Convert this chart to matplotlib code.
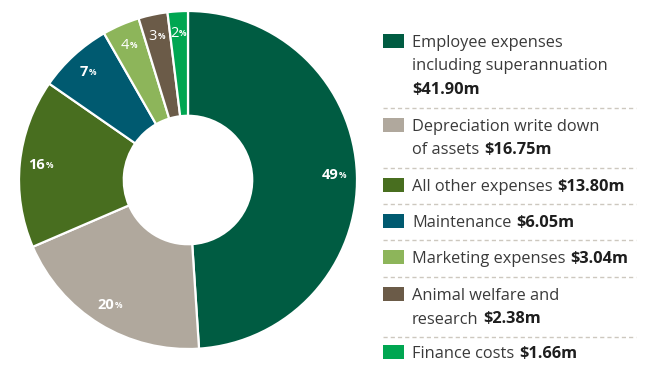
import matplotlib.pyplot as plt
from matplotlib.patches import Rectangle
from matplotlib.lines import Line2D

plt.rcParams['font.family'] = ['Open Sans', 'DejaVu Sans']

# Expense breakdown ($m)
values = [41.90, 16.75, 13.80, 6.05, 3.04, 2.38, 1.66]
colors = ['#005c42', '#b0a89d', '#486e1f', '#005a70', '#8db55a', '#6b5b48', '#00a651']
# legend text: regular lines, with the bold dollar amount appended to the last line
legend_lines = [
    ['Employee expenses', 'including superannuation', ''],
    ['Depreciation write down', 'of assets'],
    ['All other expenses'],
    ['Maintenance'],
    ['Marketing expenses'],
    ['Animal welfare and', 'research'],
    ['Finance costs'],
]
amounts = ['$41.90m', '$16.75m', '$13.80m', '$6.05m', '$3.04m', '$2.38m', '$1.66m']

W, H = 667, 367
fig = plt.figure(figsize=(W / 100, H / 100), dpi=100)

# donut
cx, cy, r = 188, 180, 169
ax = fig.add_axes([(cx - r) / W, (H - cy - r) / H, 2 * r / W, 2 * r / H])
wedges, _ = ax.pie(values, colors=colors, startangle=90, counterclock=False,
                   radius=1, wedgeprops=dict(width=0.62, edgecolor='white', linewidth=1.6))
ax.set_xlim(-1, 1)
ax.set_ylim(-1, 1)
ax.axis('off')

import numpy as np
total = sum(values)
for w, v in zip(wedges, values):
    pct = round(v / total * 100)
    ang = np.deg2rad((w.theta1 + w.theta2) / 2)
    x, y = 0.87 * np.cos(ang), 0.87 * np.sin(ang)
    weight = 'bold' if pct >= 5 else 'normal'
    t = ax.text(x - 0.03, y, str(pct), color='white', fontsize=10.5, fontweight=weight,
                ha='center', va='center')
    ax.annotate('%', xy=(1, 0.78), xycoords=t, xytext=(0.5, 0), textcoords='offset points',
                color='white', fontsize=6, fontweight='bold', ha='left', va='top')

# legend drawn in pixel coordinates
lax = fig.add_axes([0, 0, 1, 1])
lax.set_xlim(0, W)
lax.set_ylim(H, 0)
lax.axis('off')

baselines = [46.7, 130.7, 190.7, 227.3, 263.3, 300, 358.3]
line_gap = 23.5
sep_y = [108.3, 167.7, 204.3, 240, 276.7, 336.7]
text_x = 412
reg_color = '#3a3a3a'
bold_color = '#1e1e1e'
fs = 11.8

for i, (lines, amt) in enumerate(zip(legend_lines, amounts)):
    b = baselines[i]
    lax.add_patch(Rectangle((382.5, b - 13), 21, 14, facecolor=colors[i], edgecolor='none'))
    for j, line in enumerate(lines):
        y = b + j * line_gap
        if line:
            t = lax.text(text_x, y, line, fontsize=fs, color=reg_color, ha='left',
                         va='baseline', parse_math=False)
        if j == len(lines) - 1:
            if line:
                lax.annotate(amt, xy=(1, 0), xycoords=t, xytext=(3.5, 0),
                             textcoords='offset points', fontsize=fs, fontweight='bold',
                             color=bold_color, ha='left', va='bottom', annotation_clip=False)
            else:
                lax.text(text_x, y, amt, fontsize=fs, fontweight='bold', color=bold_color,
                         ha='left', va='baseline', parse_math=False)

for y in sep_y:
    lax.add_line(Line2D([383, 636], [y, y], color='#cdc8bf', linewidth=1.0,
                        linestyle=(0, (3, 2.2))))

fig.savefig('out.png', dpi=100)
